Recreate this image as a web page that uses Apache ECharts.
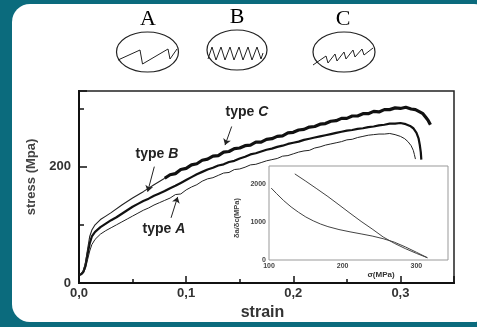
<!DOCTYPE html>
<html>
<head>
<meta charset="utf-8">
<script src="https://cdn.jsdelivr.net/npm/echarts@6/dist/echarts.min.js"></script>
<style>
  html, body { margin: 0; padding: 0; }
  body { width: 477px; height: 327px; overflow: hidden; position: relative; background: #0b6b7d; }
  #panel { position: absolute; left: 12px; top: 4px; width: 480px; height: 318px; background: #fff; border-radius: 18px; }
  #chart { position: absolute; left: 0; top: 0; width: 477px; height: 327px; }
</style>
</head>
<body>
<div id="panel"></div>
<div id="chart"></div>
<script>
// type A curve (lowest, thin)
const strainA = [0, 0.002, 0.004, 0.006, 0.008, 0.010, 0.012, 0.015,
  0.020, 0.025, 0.030, 0.035, 0.040, 0.045, 0.050, 0.055, 0.060, 0.065,
  0.070, 0.075, 0.080, 0.085, 0.090, 0.095, 0.100, 0.105, 0.110, 0.115,
  0.120, 0.125, 0.130, 0.135, 0.140, 0.145, 0.150, 0.155, 0.160, 0.165,
  0.170, 0.175, 0.180, 0.185, 0.190, 0.195, 0.200, 0.205, 0.210, 0.215,
  0.220, 0.225, 0.230, 0.235, 0.240, 0.245, 0.250, 0.255, 0.260, 0.265,
  0.270, 0.275, 0.280, 0.285, 0.290, 0.295, 0.300,
  0.304, 0.307, 0.310, 0.312, 0.313, 0.314]
const stressA = [13, 14, 17, 25, 40, 55, 66, 75,
  84, 90, 95, 100, 105, 110, 115, 120, 125, 129,
  134, 138, 142, 146, 152, 153, 160, 165, 169, 175,
  179, 181, 185, 189, 190, 195, 196, 199, 203, 204,
  207, 210, 212, 214, 218, 219, 222, 225, 227, 228,
  232, 234, 237, 239, 241, 243, 246, 247, 250, 252,
  254, 255, 256, 256, 257, 255, 252,
  248, 243, 236, 228, 221, 213]

// type B curve (middle, thick)
const strainB = [0, 0.002, 0.004, 0.006, 0.008, 0.010, 0.012, 0.015,
  0.020, 0.025, 0.030, 0.035, 0.040, 0.045, 0.050, 0.055, 0.060, 0.065,
  0.070, 0.075, 0.080, 0.085, 0.090, 0.095, 0.100, 0.105, 0.110, 0.115,
  0.120, 0.125, 0.130, 0.135, 0.140, 0.145, 0.150, 0.155, 0.160, 0.165,
  0.170, 0.175, 0.180, 0.185, 0.190, 0.195, 0.200, 0.205, 0.210, 0.215,
  0.220, 0.225, 0.230, 0.235, 0.240, 0.245, 0.250, 0.255, 0.260, 0.265,
  0.270, 0.275, 0.280, 0.285, 0.290, 0.295, 0.300,
  0.305, 0.309, 0.312, 0.315, 0.317, 0.318, 0.319, 0.3195]
const stressB = [14, 15, 19, 30, 50, 68, 80, 88,
  96, 102, 108, 113, 119, 125, 131, 136, 141, 145,
  150, 154, 158, 163, 167, 172, 177, 182, 187, 191,
  195, 198, 202, 204, 208, 210, 214, 217, 221, 223,
  226, 229, 231, 234, 236, 239, 241, 243, 246, 248,
  250, 252, 254, 256, 258, 260, 262, 263, 265, 266,
  268, 269, 271, 272, 274, 274, 275,
  273, 270, 266, 258, 248, 238, 225, 212]

// type C curve (top): smooth start, then serrated part
const strainC1 = [0, 0.002, 0.004, 0.006, 0.008, 0.010, 0.012, 0.015,
  0.020, 0.025, 0.030, 0.040, 0.050, 0.060, 0.070, 0.080]
const stressC1 = [15, 16, 21, 34, 58, 80, 91, 100,
  109, 115, 121, 134, 146, 157, 169, 180]
const strainC2 = [0.080, 0.085, 0.090, 0.095, 0.100, 0.105, 0.110, 0.115, 0.120, 0.125,
  0.130, 0.135, 0.140, 0.145, 0.150, 0.155, 0.160, 0.165, 0.170, 0.175,
  0.180, 0.185, 0.190, 0.195, 0.200, 0.205, 0.210, 0.215, 0.220, 0.225,
  0.230, 0.235, 0.240, 0.245, 0.250, 0.255, 0.260, 0.265, 0.270, 0.275,
  0.280, 0.285, 0.290, 0.295, 0.300, 0.305,
  0.310, 0.314, 0.318, 0.321, 0.324, 0.326, 0.328]
const stressC2 = [180, 186, 188, 195, 197, 203, 205, 211, 213, 218,
  219, 225, 226, 231, 232, 236, 237, 242, 242, 247,
  248, 252, 253, 258, 259, 263, 264, 268, 269, 273,
  274, 278, 279, 283, 283, 287, 287, 291, 291, 295,
  294, 298, 298, 301, 300, 302,
  299, 298, 294, 291, 284, 279, 272]

// inset: δa/δc versus σ
const sigmaUp = [135, 150, 165, 180, 195, 210, 225, 240, 255, 270, 285, 300, 315]
const ratioUp = [2263, 2070, 1870, 1667, 1450, 1230, 1015, 815, 605, 440, 300, 175, 60]
const sigmaLow = [103, 110, 120, 130, 140, 150, 160, 170, 180, 195, 210, 225, 240, 255, 270, 285, 300, 315]
const ratioLow = [1890, 1750, 1560, 1395, 1255, 1130, 1030, 945, 877, 800, 740, 686, 630, 560, 470, 345, 205, 60]

// serration sketches inside the circles (time, stress)
const sawAt = [0, 22, 24.5, 50, 52, 59]
const sawAs = [7, 17, 3, 18, 8, 18]
const sawBt = [0, 4, 8, 13, 17, 22, 26, 31, 35, 40, 44, 49, 53, 55]
const sawBs = [5, 17, 4, 17, 4, 17, 4, 17, 4, 17, 4, 17, 5, 11]
const sawCt = [0, 13, 15, 22, 24, 31, 33, 40, 42, 49, 51, 60]
const sawCs = [2, 11, 4, 13, 6, 15, 8, 17, 10, 18, 12, 19]

// tick labels
const strainTicks = [0, 0.1, 0.2, 0.3]
const stressTicks = [0, 200]
const sigmaTicks = [100, 200, 300]
const ratioTicks = [0, 1000, 2000]

const zip = (xs, ys) => xs.map((x, i) => [x, ys[i]])
const has = (list, v) => list.some(t => Math.abs(t - v) < 1e-9)

const font = 'Liberation Sans, Arial, sans-serif'
const labelStyle = { color: '#333', fontWeight: 'bold', fontFamily: font }
const arrowLine = { color: '#222', width: 1, type: 'solid' }
const typeLabel = {
  show: true,
  formatter: p => '{t|type }{i|' + p.name + '}',
  rich: {
    t: { fontSize: 14, fontWeight: 'bold', fontFamily: font, color: '#222' },
    i: { fontSize: 14, fontWeight: 'bold', fontStyle: 'italic', fontFamily: font, color: '#222' }
  }
}

function annotate (name, at, from, to) {
  return {
    markPoint: {
      symbol: 'circle', symbolSize: 1, silent: true,
      itemStyle: { color: 'transparent' },
      label: typeLabel,
      data: [{ name: name, coord: at }]
    },
    markLine: {
      symbol: ['none', 'arrow'], symbolSize: 6, silent: true,
      lineStyle: arrowLine, label: { show: false },
      data: [[{ coord: from }, { coord: to }]]
    }
  }
}

const chart = echarts.init(document.getElementById('chart'))

const hidden = { show: false }
const sketchAxes = (i, xmax, ymax) => ({
  x: { type: 'value', gridIndex: i, min: 0, max: xmax, show: false },
  y: { type: 'value', gridIndex: i, min: 0, max: ymax, show: false }
})
const skA = sketchAxes(2, 60, 22)
const skB = sketchAxes(3, 56, 20)
const skC = sketchAxes(4, 60, 22)
const letterFont = '22px "Liberation Serif", "DejaVu Serif", serif'

chart.setOption({
  animation: false,
  backgroundColor: 'transparent',
  grid: [
    { left: 79, top: 91, width: 375, height: 192, show: true, borderColor: '#222', borderWidth: 1.5 },
    { left: 269, top: 166, width: 179, height: 94, show: true, backgroundColor: '#fff', borderColor: '#999', borderWidth: 1 },
    { left: 118, top: 45, width: 60, height: 22 },
    { left: 208, top: 44, width: 56, height: 20 },
    { left: 313, top: 45, width: 60, height: 22 }
  ],
  xAxis: [
    {
      type: 'value', gridIndex: 0, position: 'bottom', min: 0, max: 0.35, interval: 0.05,
      axisLine: { onZero: false, lineStyle: { color: '#111', width: 2 } },
      axisTick: { inside: true, length: 4, lineStyle: { color: '#111', width: 1.5 } },
      axisLabel: { show: false }, splitLine: hidden
    },
    {
      type: 'value', gridIndex: 0, position: 'bottom', min: 0, max: 0.35, interval: 0.1,
      axisLine: { onZero: false, lineStyle: { color: '#111', width: 2 } },
      axisTick: { inside: true, length: 7, lineStyle: { color: '#111', width: 1.5 } },
      axisLabel: Object.assign({ fontSize: 13, margin: 4,
        formatter: v => has(strainTicks, v) ? v.toFixed(1).replace('.', ',') : '' }, labelStyle),
      splitLine: hidden,
      name: 'strain', nameLocation: 'middle', nameGap: 20,
      nameTextStyle: { fontSize: 16, fontWeight: 'bold', fontFamily: font, color: '#333', padding: [0, 8, 0, 0] }
    },
    {
      type: 'value', gridIndex: 1, min: 100, max: 343, interval: 100,
      axisLine: { show: false }, axisTick: hidden, splitLine: hidden,
      axisLabel: Object.assign({ fontSize: 7, margin: 3,
        formatter: v => has(sigmaTicks, v) ? String(v) : '' }, labelStyle, { color: '#444' }),
      name: 'σ(MPa)', nameLocation: 'middle', nameGap: 4,
      nameTextStyle: { fontSize: 8, fontWeight: 'bold', fontFamily: font, color: '#333', padding: [0, 0, 0, 45] }
    },
    skA.x, skB.x, skC.x
  ],
  yAxis: [
    {
      type: 'value', gridIndex: 0, position: 'left', min: 0, max: 330, interval: 100,
      axisLine: { onZero: false, lineStyle: { color: '#111', width: 2 } },
      axisTick: { inside: true, length: 5, lineStyle: { color: '#111', width: 1.5 } },
      axisLabel: { show: false }, splitLine: hidden
    },
    {
      type: 'value', gridIndex: 0, position: 'left', min: 0, max: 330, interval: 200,
      axisLine: { onZero: false, lineStyle: { color: '#111', width: 2 } },
      axisTick: { inside: true, length: 8, lineStyle: { color: '#111', width: 1.5 } },
      axisLabel: Object.assign({ fontSize: 13, margin: 8,
        formatter: v => has(stressTicks, v) ? String(v) : '' }, labelStyle),
      splitLine: hidden,
      name: 'stress (Mpa)', nameLocation: 'middle', nameGap: 39,
      nameTextStyle: { fontSize: 13, fontWeight: 'bold', fontFamily: font, color: '#444', padding: [0, 0, 0, 20] }
    },
    {
      type: 'value', gridIndex: 1, min: 0, max: 2470, interval: 1000,
      axisLine: { show: false }, axisTick: hidden, splitLine: hidden,
      axisLabel: Object.assign({ fontSize: 7, margin: 3,
        formatter: v => has(ratioTicks, v) ? String(v) : '' }, labelStyle, { color: '#444' }),
      name: 'δa/δc(MPa)', nameLocation: 'middle', nameGap: 28,
      nameTextStyle: { fontSize: 7.5, fontWeight: 'bold', fontFamily: font, color: '#444', padding: [0, 10, 0, 0] }
    },
    skA.y, skB.y, skC.y
  ],
  series: [
    Object.assign({
      name: 'A', type: 'line', xAxisIndex: 0, yAxisIndex: 0, showSymbol: false,
      lineStyle: { color: '#222', width: 1 }, data: zip(strainA, stressA)
    }, annotate('A', [0.0793, 93], [0.0859, 112], [0.0921, 148])),
    Object.assign({
      name: 'B', type: 'line', xAxisIndex: 0, yAxisIndex: 0, showSymbol: false,
      lineStyle: { color: '#111', width: 2.2 }, data: zip(strainB, stressB)
    }, annotate('B', [0.0728, 222], [0.0703, 200], [0.0641, 157])),
    {
      name: 'C start', type: 'line', xAxisIndex: 0, yAxisIndex: 0, showSymbol: false,
      lineStyle: { color: '#222', width: 1.1 }, data: zip(strainC1, stressC1)
    },
    Object.assign({
      name: 'C', type: 'line', xAxisIndex: 0, yAxisIndex: 0, showSymbol: false,
      lineStyle: { color: '#111', width: 3.2 }, data: zip(strainC2, stressC2)
    }, annotate('C', [0.1568, 294], [0.1425, 269], [0.1363, 237])),
    {
      type: 'line', xAxisIndex: 2, yAxisIndex: 2, showSymbol: false,
      lineStyle: { color: '#444', width: 1 }, data: zip(sigmaUp, ratioUp)
    },
    {
      type: 'line', xAxisIndex: 2, yAxisIndex: 2, showSymbol: false,
      lineStyle: { color: '#444', width: 1 }, data: zip(sigmaLow, ratioLow)
    },
    {
      type: 'line', xAxisIndex: 3, yAxisIndex: 3, showSymbol: false,
      lineStyle: { color: '#222', width: 1 }, data: zip(sawAt, sawAs)
    },
    {
      type: 'line', xAxisIndex: 4, yAxisIndex: 4, showSymbol: false,
      lineStyle: { color: '#222', width: 1 }, data: zip(sawBt, sawBs)
    },
    {
      type: 'line', xAxisIndex: 5, yAxisIndex: 5, showSymbol: false,
      lineStyle: { color: '#222', width: 1 }, data: zip(sawCt, sawCs)
    }
  ],
  graphic: [
    { type: 'ellipse', shape: { cx: 147.5, cy: 52, rx: 31, ry: 20 }, style: { fill: 'none', stroke: '#222', lineWidth: 1.2 } },
    { type: 'ellipse', shape: { cx: 237, cy: 50, rx: 30, ry: 20 }, style: { fill: 'none', stroke: '#222', lineWidth: 1.2 } },
    { type: 'ellipse', shape: { cx: 344, cy: 52, rx: 31, ry: 20 }, style: { fill: 'none', stroke: '#222', lineWidth: 1.2 } },
    { type: 'text', x: 148, y: 19, style: { text: 'A', font: letterFont, fill: '#000', align: 'center', verticalAlign: 'middle' } },
    { type: 'text', x: 237, y: 17, style: { text: 'B', font: letterFont, fill: '#000', align: 'center', verticalAlign: 'middle' } },
    { type: 'text', x: 343, y: 19, style: { text: 'C', font: letterFont, fill: '#000', align: 'center', verticalAlign: 'middle' } }
  ]
})
</script>
</body>
</html>
